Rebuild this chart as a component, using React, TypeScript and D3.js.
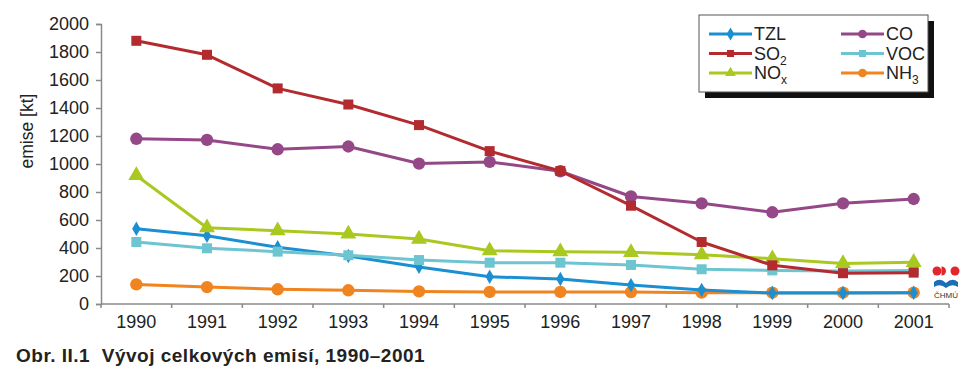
import { useEffect, useRef } from 'react';
import * as d3 from 'd3';

const years = ['1990', '1991', '1992', '1993', '1994', '1995', '1996', '1997', '1998', '1999', '2000', '2001'];

const tzl = [537, 488, 405, 343, 265, 195, 178, 135, 100, 78, 78, 80];
const so2 = [1880, 1780, 1540, 1425, 1278, 1092, 950, 702, 443, 276, 220, 224];
const nox = [918, 545, 524, 500, 464, 381, 374, 369, 352, 324, 290, 298];
const co = [1180, 1172, 1105, 1125, 1003, 1015, 948, 768, 719, 655, 719, 750];
const voc = [443, 398, 374, 348, 314, 295, 295, 279, 248, 240, 236, 240];
const nh3 = [140, 121, 105, 98, 90, 86, 86, 85, 81, 81, 81, 81];

const yTicks = [0, 200, 400, 600, 800, 1000, 1200, 1400, 1600, 1800, 2000];

const series = [
  { name: 'TZL', sub: '', values: tzl, color: '#1b8fd2', shape: 'diamond' },
  { name: 'SO', sub: '2', values: so2, color: '#b32a2f', shape: 'square' },
  { name: 'NO', sub: 'x', values: nox, color: '#a9c820', shape: 'triangle' },
  { name: 'CO', sub: '', values: co, color: '#944888', shape: 'circle' },
  { name: 'VOC', sub: '', values: voc, color: '#6cc5d1', shape: 'square' },
  { name: 'NH', sub: '3', values: nh3, color: '#ef8421', shape: 'circle' },
];

const symbolFor = (shape: string) => {
  if (shape === 'diamond') return d3.symbol().type(d3.symbolDiamond).size(60);
  if (shape === 'square') return d3.symbol().type(d3.symbolSquare).size(100);
  if (shape === 'triangle') return d3.symbol().type(d3.symbolTriangle).size(110);
  return d3.symbol().type(d3.symbolCircle).size(120);
};

const FONT = "'Liberation Sans', Arial, sans-serif";

const App = () => {
  const svgRef = useRef<SVGSVGElement>(null);

  useEffect(() => {
    const svg = d3.select(svgRef.current);
    svg.selectAll('*').remove();

    const x = d3.scaleBand().domain(years).range([101, 949]);
    const y = d3.scaleLinear().domain([0, 2000]).range([304, 24]);
    const axisColor = '#8a8a8a';

    // y axis
    const yAxis = svg.append('g')
      .attr('transform', 'translate(101,0)')
      .call(d3.axisLeft(y).tickValues(yTicks).tickFormat(d3.format('d')).tickSize(5).tickPadding(7));
    yAxis.select('.domain').attr('stroke', axisColor).attr('stroke-width', 1.5);
    yAxis.selectAll('line').attr('stroke', axisColor).attr('stroke-width', 1.5);
    yAxis.selectAll('text')
      .attr('fill', '#222')
      .style('font-family', FONT)
      .style('font-size', '18px');

    // x axis, ticks on band edges
    const xAxis = svg.append('g').attr('transform', 'translate(0,304)');
    xAxis.append('line')
      .attr('x1', 101).attr('x2', 949)
      .attr('stroke', axisColor).attr('stroke-width', 1.5);
    const edges = years.map(d => x(d)!).concat([949]);
    xAxis.selectAll('.xt')
      .data(edges)
      .enter().append('line')
      .attr('x1', d => d).attr('x2', d => d)
      .attr('y1', 0).attr('y2', 4)
      .attr('stroke', axisColor).attr('stroke-width', 1.5);
    xAxis.selectAll('.xl')
      .data(years)
      .enter().append('text')
      .attr('x', d => x(d)! + x.bandwidth() / 2)
      .attr('y', 24)
      .attr('text-anchor', 'middle')
      .attr('fill', '#222')
      .style('font-family', FONT)
      .style('font-size', '18px')
      .text(d => d);

    // y label
    svg.append('text')
      .attr('transform', 'translate(33,131) rotate(-90)')
      .attr('text-anchor', 'middle')
      .attr('fill', '#222')
      .style('font-family', FONT)
      .style('font-size', '17.5px')
      .text('emise [kt]');

    const line = d3.line<number>()
      .x((_, i) => x(years[i])! + x.bandwidth() / 2)
      .y(d => y(d));

    const draw = [series[5], series[0], series[4], series[2], series[3], series[1]];
    draw.forEach(s => {
      svg.append('path')
        .attr('fill', 'none')
        .attr('stroke', s.color)
        .attr('stroke-width', 3)
        .attr('stroke-linejoin', 'round')
        .attr('d', line(s.values));
      svg.selectAll(null)
        .data(s.values)
        .enter().append('path')
        .attr('transform', (d, i) => `translate(${x(years[i])! + x.bandwidth() / 2},${y(d)})`)
        .attr('d', symbolFor(s.shape)()!)
        .attr('fill', s.color);
    });

    // legend
    const lg = svg.append('g');
    lg.append('rect').attr('x', 705).attr('y', 21).attr('width', 229).attr('height', 77).attr('fill', '#111');
    lg.append('rect').attr('x', 699).attr('y', 15).attr('width', 229).attr('height', 77)
      .attr('fill', '#fff').attr('stroke', '#555').attr('stroke-width', 1);
    series.forEach((s, i) => {
      const col = Math.floor(i / 3);
      const row = i % 3;
      const lx = col === 0 ? 709 : 841;
      const ly = 34 + row * 19.5;
      lg.append('line')
        .attr('x1', lx).attr('x2', lx + 43)
        .attr('y1', ly).attr('y2', ly)
        .attr('stroke', s.color).attr('stroke-width', 3);
      lg.append('path')
        .attr('transform', `translate(${lx + 21.5},${ly})`)
        .attr('d', symbolFor(s.shape).size(s.shape === 'circle' ? 60 : 50)()!)
        .attr('fill', s.color);
      const t = lg.append('text')
        .attr('x', lx + 45).attr('y', ly + 6)
        .attr('fill', '#222')
        .style('font-family', FONT)
        .style('font-size', '18px')
        .text(s.name);
      if (s.sub) {
        t.append('tspan').attr('dy', 5).style('font-size', '12px').text(s.sub);
      }
    });

    // logo
    const logo = svg.append('g');
    logo.append('circle').attr('cx', 937).attr('cy', 271).attr('r', 4.5).attr('fill', '#e3262b');
    logo.append('path').attr('d', 'M941.5,266.5 A4.5,4.5 0 0 1 941.5,275.5 Z').attr('fill', '#e3262b');
    logo.append('circle').attr('cx', 955).attr('cy', 271).attr('r', 4.5).attr('fill', '#e3262b');
    logo.append('path')
      .attr('d', 'M934,282 Q940,277 946,283 Q952,277 958,282 L958,287 Q952,283 946,288 Q940,283 934,287 Z')
      .attr('fill', '#1b6fb8');
    logo.append('text')
      .attr('x', 946).attr('y', 298)
      .attr('text-anchor', 'middle')
      .attr('fill', '#333')
      .style('font-family', FONT)
      .style('font-size', '8px')
      .text('ČHMÚ');

    // caption
    svg.append('text')
      .attr('x', 16).attr('y', 362)
      .attr('fill', '#222')
      .style('font-family', FONT)
      .style('font-size', '19px')
      .style('font-weight', 'bold')
      .style('letter-spacing', '0.5px')
      .style('white-space', 'pre')
      .text('Obr. II.1  Vývoj celkových emisí, 1990–2001');
  }, []);

  return (
    <svg ref={svgRef} width={976} height={388}
      style={{ position: 'absolute', left: 0, top: 0, background: '#fff' }} />
  );
};

export default App;
